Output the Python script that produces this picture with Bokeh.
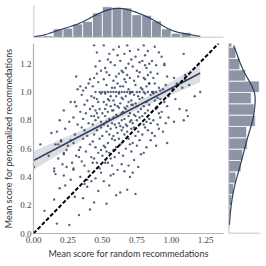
import numpy as np
from bokeh.plotting import figure
from bokeh.layouts import gridplot
from bokeh.models import Range1d, Span, Slope, NumeralTickFormatter, FixedTicker
from bokeh.embed import file_html
from bokeh.resources import INLINE

# ---------------- data ----------------
x_random = [
    0.003, 0.05,
    0.08, 0.11, 0.13,
    0.17, 0.15, 0.19, 0.16, 0.15, 0.21, 0.18, 0.16, 0.20, 0.17, 0.19, 0.15, 0.20, 0.18,
    0.26, 0.23, 0.22, 0.27, 0.24, 0.28, 0.22, 0.25, 0.27, 0.23, 0.26, 0.22, 0.27, 0.24, 0.22,
    0.33, 0.30, 0.34, 0.29, 0.35, 0.31, 0.33, 0.29, 0.34, 0.30, 0.35, 0.32, 0.29, 0.34, 0.31,
    0.30, 0.35, 0.32, 0.29, 0.34, 0.31, 0.33,
    0.41, 0.36, 0.39, 0.42, 0.37, 0.40, 0.38, 0.42, 0.36, 0.41, 0.39, 0.37, 0.40, 0.36, 0.42,
    0.38, 0.41, 0.37, 0.39, 0.42, 0.36, 0.40, 0.38, 0.41, 0.37, 0.39,
    0.44, 0.47, 0.45, 0.49, 0.43, 0.46, 0.48, 0.44, 0.47, 0.49, 0.45, 0.43, 0.48, 0.44, 0.46,
    0.49, 0.43, 0.45, 0.47, 0.49, 0.44, 0.46, 0.48, 0.43, 0.45, 0.47, 0.44, 0.49, 0.46, 0.45,
    0.48, 0.43, 0.47, 0.44, 0.46, 0.49, 0.45, 0.48, 0.46, 0.44,
    0.53, 0.55, 0.51, 0.56, 0.52, 0.54, 0.57, 0.50, 0.53, 0.56, 0.55, 0.51, 0.54, 0.57, 0.52,
    0.50, 0.53, 0.56, 0.55, 0.51, 0.53, 0.55, 0.57, 0.52, 0.54, 0.50, 0.52, 0.54, 0.56, 0.53,
    0.57, 0.51, 0.54, 0.56, 0.52, 0.55, 0.50, 0.52, 0.54, 0.56, 0.53, 0.57, 0.51, 0.55, 0.53,
    0.52, 0.56, 0.54, 0.55, 0.51,
    0.60, 0.63, 0.58, 0.61, 0.64, 0.59, 0.62, 0.58, 0.60, 0.63, 0.59, 0.62, 0.58, 0.61, 0.64,
    0.60, 0.59, 0.62, 0.64, 0.58, 0.61, 0.63, 0.60, 0.58, 0.62, 0.64, 0.59, 0.61, 0.63, 0.58,
    0.60, 0.62, 0.64, 0.58, 0.60, 0.62, 0.64, 0.59, 0.61, 0.63, 0.58, 0.60, 0.62, 0.64, 0.59,
    0.63, 0.61, 0.58, 0.62,
    0.68, 0.70, 0.66, 0.69, 0.65, 0.71, 0.67, 0.70, 0.65, 0.69, 0.66, 0.68, 0.71, 0.65, 0.67,
    0.70, 0.66, 0.69, 0.71, 0.68, 0.65, 0.67, 0.70, 0.68, 0.71, 0.66, 0.69, 0.65, 0.67, 0.70,
    0.71, 0.66, 0.68, 0.70, 0.71, 0.65, 0.67, 0.69, 0.66, 0.68, 0.70, 0.65, 0.67, 0.69, 0.71,
    0.66, 0.70, 0.68,
    0.74, 0.77, 0.72, 0.76, 0.73, 0.78, 0.75, 0.72, 0.77, 0.74, 0.76, 0.73, 0.72, 0.75, 0.77,
    0.74, 0.73, 0.76, 0.78, 0.72, 0.75, 0.74, 0.77, 0.73, 0.76, 0.72, 0.75, 0.77, 0.74, 0.78,
    0.73, 0.76, 0.75, 0.72, 0.77, 0.74, 0.76,
    0.81, 0.84, 0.80, 0.82, 0.85, 0.79, 0.83, 0.81, 0.80, 0.82, 0.84, 0.79, 0.85, 0.81, 0.83,
    0.80, 0.84, 0.82, 0.79, 0.85, 0.81, 0.80, 0.83, 0.82, 0.84, 0.79, 0.81, 0.83, 0.85, 0.80,
    0.82, 0.84, 0.79, 0.81, 0.83, 0.80,
    0.90, 0.87, 0.89, 0.92, 0.86, 0.91, 0.88, 0.90, 0.87, 0.92, 0.86, 0.89, 0.91, 0.88, 0.90,
    0.87, 0.86, 0.89, 0.91, 0.88, 0.92, 0.87, 0.90, 0.89, 0.86, 0.91, 0.88,
    0.95, 0.97, 0.94, 0.96, 0.98, 0.93, 0.97, 0.95, 0.98, 0.94, 0.96, 0.97, 0.95, 0.93,
    1.05, 1.02, 1.06, 1.03, 1.01, 1.04, 1.02,
    1.10, 1.09, 1.12, 1.11, 1.08, 1.13, 1.10, 1.09,
    1.17, 1.21,
]

y_personalized = [
    0.47, 0.63,
    0.16, 0.55, 0.71,
    0.07, 0.24, 0.32, 0.42, 0.46, 0.49, 0.53, 0.63, 0.66, 0.72, 0.80, 0.44, 0.65, 0.63,
    0.06, 0.34, 0.41, 0.38, 0.47, 0.50, 0.57, 0.62, 0.66, 0.74, 0.79, 0.87, 0.93, 0.59, 0.56,
    0.13, 0.26, 0.40, 0.45, 0.51, 0.55, 0.59, 0.64, 0.61, 0.70, 0.75, 0.77, 0.82, 0.86, 0.90,
    0.93, 0.98, 1.02, 0.46, 1.04, 1.11, 0.54,
    0.17, 0.25, 0.33, 0.37, 0.48, 0.44, 0.58, 0.54, 0.67, 0.63, 0.69, 0.73, 0.78, 0.81, 0.83,
    0.85, 0.88, 0.91, 0.94, 0.97, 1.01, 1.06, 1.03, 1.09, 0.35, 0.38,
    0.22, 0.30, 0.39, 0.43, 0.50, 0.50, 0.46, 0.53, 0.57, 0.59, 0.61, 0.65, 0.67, 0.70, 0.73,
    0.75, 0.77, 0.80, 0.82, 0.79, 0.83, 0.85, 0.88, 0.90, 0.87, 0.93, 0.96, 0.99, 0.95, 1.00,
    1.00, 1.04, 1.07, 1.10, 1.13, 1.15, 1.18, 1.22, 1.28, 1.33,
    0.21, 0.34, 0.37, 0.41, 0.50, 0.50, 0.48, 0.55, 0.58, 0.53, 0.57, 0.62, 0.64, 0.67, 0.61,
    0.69, 0.72, 0.74, 0.70, 0.77, 0.79, 0.81, 0.78, 0.83, 0.76, 0.85, 0.88, 0.86, 0.90, 0.91,
    0.87, 0.93, 0.95, 0.97, 0.99, 0.94, 1.00, 1.00, 1.00, 1.00, 1.05, 1.03, 1.09, 1.12, 1.14,
    1.17, 1.21, 1.23, 1.27, 1.33,
    0.27, 0.29, 0.42, 0.45, 0.49, 0.54, 0.57, 0.59, 0.61, 0.63, 0.66, 0.67, 0.69, 0.71, 0.73,
    0.75, 0.77, 0.78, 0.80, 0.82, 0.83, 0.76, 0.84, 0.87, 0.89, 0.85, 0.91, 0.90, 0.92, 0.94,
    0.97, 0.99, 0.96, 1.00, 1.00, 1.00, 1.00, 1.03, 1.06, 1.04, 1.08, 1.11, 1.13, 1.15, 1.19,
    1.22, 1.26, 1.30, 1.32,
    0.31, 0.40, 0.44, 0.48, 0.55, 0.58, 0.60, 0.63, 0.65, 0.67, 0.70, 0.72, 0.74, 0.75, 0.77,
    0.79, 0.81, 0.83, 0.80, 0.76, 0.86, 0.88, 0.85, 0.90, 0.91, 0.89, 0.93, 0.95, 0.97, 0.99,
    0.94, 1.00, 1.00, 1.00, 1.00, 1.04, 1.07, 1.02, 1.09, 1.12, 1.10, 1.14, 1.17, 1.20, 1.23,
    1.27, 1.29, 1.33,
    0.28, 1.14, 0.43, 0.47, 0.52, 0.56, 0.62, 0.64, 0.66, 0.69, 0.72, 0.75, 0.78, 0.80, 0.82,
    0.83, 0.84, 0.86, 0.88, 0.91, 0.90, 0.92, 0.95, 0.98, 0.97, 1.00, 1.00, 1.00, 1.05, 1.03,
    1.08, 1.11, 1.15, 1.18, 1.21, 1.25, 1.30,
    1.19, 1.06, 0.57, 0.61, 0.66, 0.70, 0.73, 0.75, 0.77, 0.79, 0.81, 0.83, 0.78, 0.85, 0.87,
    0.90, 0.91, 0.93, 0.96, 0.98, 0.99, 1.00, 1.00, 1.04, 1.06, 1.02, 1.09, 1.12, 1.14, 1.10,
    1.17, 1.20, 1.22, 1.26, 1.29, 1.33,
    0.89, 1.00, 0.62, 0.95, 0.71, 0.74, 0.69, 0.77, 0.80, 0.82, 0.86, 0.88, 0.85, 0.94, 0.96,
    0.99, 1.00, 1.00, 1.03, 1.06, 1.01, 1.10, 1.13, 1.19, 1.22, 1.28, 1.32,
    1.20, 0.64, 0.72, 0.78, 0.82, 0.86, 0.90, 0.93, 0.97, 1.02, 1.05, 1.11, 1.19, 1.25,
    1.05, 0.79, 0.88, 0.95, 1.02, 1.06, 1.10,
    1.12, 0.80, 0.83, 0.87, 1.03, 1.05, 1.09, 1.27,
    0.97, 1.00,
]

x_ticks = [0.0, 0.25, 0.5, 0.75, 1.0, 1.25]
y_ticks = [0.0, 0.2, 0.4, 0.6, 0.8, 1.0, 1.2]
x_label = "Mean score for random recommedations"
y_label = "Mean score for personalized recommedations"

X_LIMITS = (0.0, 1.379)
Y_LIMITS = (0.0, 1.343)
X_BINS, X_BIN_RANGE = 17, (0.0, 1.214)
Y_BINS, Y_BIN_RANGE = 17, (0.035, 1.398)

# ---------------- style ----------------
C = "#2d3d5b"
SPINE = "#b3b3b3"
TICK_FONT = "Liberation Serif"
LABEL_FONT = "Lato"

x = np.asarray(x_random, dtype=float)
y = np.asarray(y_personalized, dtype=float)
n = len(x)

def kde(data, grid):
    bw = data.std(ddof=1) * len(data) ** (-1 / 5)
    z = (grid[:, None] - data[None, :]) / bw
    return np.exp(-0.5 * z ** 2).sum(axis=1) / (len(data) * bw * np.sqrt(2 * np.pi))

xc, xe = np.histogram(x, bins=X_BINS, range=X_BIN_RANGE)
yc, ye = np.histogram(y, bins=Y_BINS, range=Y_BIN_RANGE)
gx = np.linspace(x.min(), x.max(), 200)
gy = np.linspace(y.min(), y.max(), 200)
kx = kde(x, gx) * n * (xe[1] - xe[0])
ky = kde(y, gy) * n * (ye[1] - ye[0])

# regression + 95% CI
b1, b0 = np.polyfit(x, y, 1)
resid = y - (b0 + b1 * x)
s = np.sqrt((resid ** 2).sum() / (n - 2))
sxx = ((x - x.mean()) ** 2).sum()
fit = b0 + b1 * gx
half = 1.966 * s * np.sqrt(1 / n + (gx - x.mean()) ** 2 / sxx)

xr = Range1d(*X_LIMITS)
yr = Range1d(*Y_LIMITS)

def base(p):
    p.grid.visible = False
    p.outline_line_color = None
    p.background_fill_color = "white"
    p.border_fill_color = "white"

# main joint plot
main = figure(width=228, height=224, x_range=xr, y_range=yr,
              output_backend="svg", toolbar_location=None,
              min_border_left=30, min_border_right=5, min_border_top=3, min_border_bottom=31)
base(main)
main.varea(x=gx, y1=fit - half, y2=fit + half, fill_color=C, fill_alpha=0.17)
main.scatter(x, y, size=2.4, fill_color=C, line_color=None, fill_alpha=0.8)
main.line(gx, fit, line_color=C, line_width=1.6)
main.add_layout(Slope(gradient=1, y_intercept=0, line_color="black", line_width=2, line_dash="4 2"))

for ax in (main.xaxis[0], main.yaxis[0]):
    ax.axis_line_color = SPINE
    ax.axis_line_width = 1.2
    ax.major_tick_line_color = None
    ax.minor_tick_line_color = None
    ax.major_tick_out = 0
    ax.major_tick_in = 0
    ax.minor_tick_out = 0
    ax.minor_tick_in = 0
    ax.major_label_text_font = TICK_FONT
    ax.major_label_text_font_size = "9px"
    ax.major_label_text_color = "#444444"
    ax.axis_label_text_font = LABEL_FONT
    ax.axis_label_text_font_size = "9px"
    ax.axis_label_text_font_style = "normal"
    ax.axis_label_text_color = "#333333"
main.yaxis[0].major_label_standoff = 2
main.yaxis[0].axis_label_standoff = 3
main.xaxis[0].major_label_standoff = 3
main.xaxis[0].axis_label_standoff = 2
main.xaxis[0].ticker = FixedTicker(ticks=x_ticks)
main.yaxis[0].ticker = FixedTicker(ticks=y_ticks)
main.xaxis[0].formatter = NumeralTickFormatter(format="0.00")
main.yaxis[0].formatter = NumeralTickFormatter(format="0.0")
main.xaxis[0].axis_label = x_label
main.yaxis[0].axis_label = y_label

# top marginal
topmax = max(xc.max(), kx.max()) * 1.04
top = figure(width=228, height=40, x_range=xr, y_range=Range1d(0, topmax),
             output_backend="svg", toolbar_location=None,
             min_border_left=30, min_border_right=5, min_border_top=5, min_border_bottom=3)
base(top)
top.axis.visible = False
top.quad(left=xe[:-1], right=xe[1:], bottom=0, top=xc, fill_color=C, fill_alpha=0.55,
         line_color="white", line_width=0.8)
top.line(gx, kx, line_color=C, line_width=1.2)
top.add_layout(Span(location=0, dimension="width", line_color=SPINE, line_width=1.5))
top.add_layout(Span(location=0, dimension="height", line_color=SPINE, line_width=1.5))

# right marginal
rmax = max(yc.max(), ky.max()) * 1.04
right = figure(width=36, height=224, x_range=Range1d(0, rmax), y_range=yr,
               output_backend="svg", toolbar_location=None,
               min_border_left=0, min_border_right=4, min_border_top=3, min_border_bottom=31)
base(right)
right.axis.visible = False
right.quad(left=0, right=yc, bottom=ye[:-1], top=ye[1:], fill_color=C, fill_alpha=0.55,
           line_color="white", line_width=0.8)
right.line(ky, gy, line_color=C, line_width=1.2)
right.add_layout(Span(location=0, dimension="height", line_color=SPINE, line_width=1.5))
right.add_layout(Span(location=0, dimension="width", line_color=SPINE, line_width=1.5))

grid = gridplot([[top, None], [main, right]], toolbar_location=None)

open("out.html", "w").write(file_html(grid, INLINE))
